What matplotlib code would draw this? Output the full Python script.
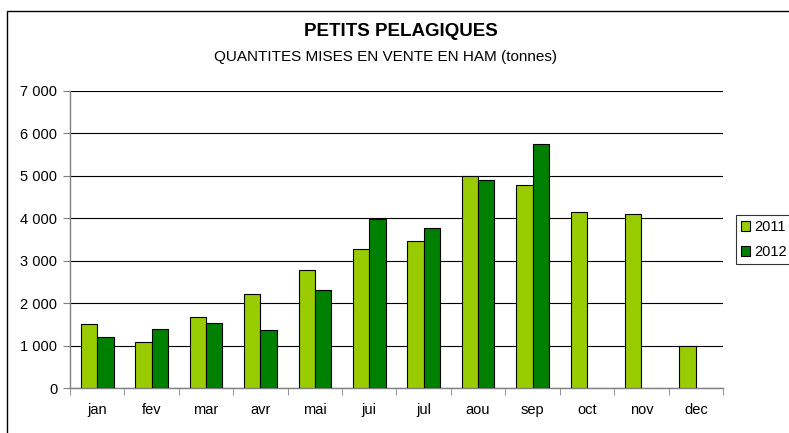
import numpy as np
import matplotlib.pyplot as plt
from matplotlib.patches import Rectangle
from matplotlib.ticker import FuncFormatter

plt.rcParams['font.family'] = ['Liberation Sans', 'DejaVu Sans']

mois = ['jan', 'fev', 'mar', 'avr', 'mai', 'jui', 'jul', 'aou', 'sep', 'oct', 'nov', 'dec']
v2011 = [1520, 1090, 1680, 2215, 2775, 3280, 3475, 4985, 4795, 4145, 4090, 1000]
v2012 = [1210, 1400, 1525, 1375, 2300, 3985, 3780, 4900, 5750]

W, H = 789, 433
fig = plt.figure(figsize=(W / 100, H / 100), dpi=100)
ax = fig.add_axes([70 / W, 1 - 388 / H, (723 - 70) / W, (388 - 91) / H])

# cadre du graphique (coupe a droite et en bas)
fig.add_artist(Rectangle((7 / W, -0.05), 1.0, 1 - 11 / H + 0.05,
                         transform=fig.transFigure, fill=False,
                         edgecolor='black', linewidth=1.0))

x = np.arange(len(mois))
larg = 0.3
ax.bar(x - larg / 2, v2011, larg, color='#99CC00', edgecolor='black',
       linewidth=0.8, label='2011', zorder=3)
ax.bar(x[:len(v2012)] + larg / 2, v2012, larg, color='#008000',
       edgecolor='black', linewidth=0.8, label='2012', zorder=3)

ax.set_xlim(-0.5, len(mois) - 0.5)
ax.set_ylim(0, 7000)
ax.set_yticks(range(0, 7001, 1000))
ax.yaxis.set_major_formatter(FuncFormatter(lambda v, p: f'{int(v):,}'.replace(',', ' ')))
ax.grid(axis='y', color='black', linewidth=0.8, zorder=0)

ax.set_xticks(x)
ax.set_xticklabels(mois)
ax.set_xticks(np.arange(-0.5, len(mois)), minor=True)
ax.tick_params(axis='x', which='major', length=0, pad=11, labelsize=10.5)
ax.tick_params(axis='x', which='minor', length=5, color='#808080', direction='out')
ax.tick_params(axis='y', length=5, color='#808080', direction='out', labelsize=10.5, pad=4)

for s in ['top', 'right']:
    ax.spines[s].set_visible(False)
for s in ['left', 'bottom']:
    ax.spines[s].set_color('#808080')
    ax.spines[s].set_linewidth(1.0)

fig.text(401 / W, 1 - 32 / H, 'PETITS PELAGIQUES', ha='center', va='center',
         fontsize=13.5, fontweight='bold')
fig.text(386 / W, 1 - 57 / H, 'QUANTITES MISES EN VENTE EN HAM (tonnes)',
         ha='center', va='center', fontsize=11)

leg = fig.legend(loc='upper left', bbox_to_anchor=(736 / W, 1 - 215 / H),
                 fontsize=10.5, frameon=True, fancybox=False, handlelength=0.6,
                 handleheight=0.6, handletextpad=0.3, borderpad=0.35,
                 labelspacing=0.75, borderaxespad=0)
leg.get_frame().set_edgecolor('black')
leg.get_frame().set_linewidth(0.8)

fig.savefig('out.png', dpi=100)
